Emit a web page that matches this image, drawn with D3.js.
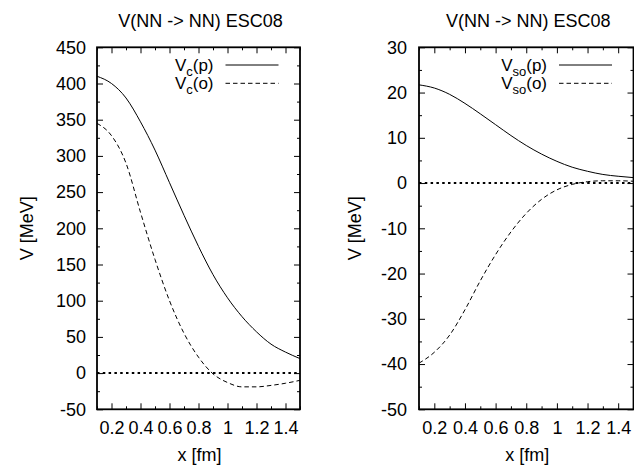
<!DOCTYPE html>
<html>
<head>
<meta charset="utf-8">
<script src="https://cdn.jsdelivr.net/npm/d3@7"></script>
<style>
  body { margin: 0; background: #fff; }
  svg { display: block; }
  text { font-family: "Liberation Sans", Arial, sans-serif; fill: #000; }
</style>
</head>
<body>
<svg width="634" height="466"></svg>
<script>
// values
var xs    = [0.1, 0.2, 0.3, 0.4, 0.5, 0.6, 0.7, 0.8, 0.9, 1.0, 1.1, 1.2, 1.3, 1.4, 1.5];
var vcP   = [410, 400, 380, 347, 308, 263, 218, 175, 136, 104, 78, 57, 40, 29, 20];
var vcO   = [345, 328, 290, 222, 157, 100, 55, 22, -1, -13, -19, -19, -17, -14, -10];
var vsoP  = [21.7, 21.0, 19.6, 17.6, 15.3, 12.9, 10.5, 8.3, 6.4, 4.8, 3.5, 2.6, 1.9, 1.5, 1.2];
var vsoO  = [-39.8, -37.4, -33.6, -28.0, -21.6, -15.8, -10.8, -6.7, -3.6, -1.5, -0.3, 0.3, 0.5, 0.5, 0.4];

var xTicks      = [0.2, 0.4, 0.6, 0.8, 1, 1.2, 1.4];
var xMinor      = [0.1, 0.3, 0.5, 0.7, 0.9, 1.1, 1.3, 1.5];
var leftTicks   = [-50, 0, 50, 100, 150, 200, 250, 300, 350, 400, 450];
var leftMinor   = [-25, 25, 75, 125, 175, 225, 275, 325, 375, 425];
var rightTicks  = [-50, -40, -30, -20, -10, 0, 10, 20, 30];
var rightMinor  = [-45, -35, -25, -15, -5, 5, 15, 25];

var title = "V(NN -> NN) ESC08";
var fs = "18px";

var svg = d3.select("svg");

function panel(opt) {
    var g = svg.append("g");

    var x = d3.scaleLinear().domain([0.1, 1.5]).range([opt.left, opt.right]);
    var y = d3.scaleLinear().domain(opt.yDomain).range([opt.bottom, opt.top]);

    // ticks, all pointing inward, mirrored on all sides
    function axisGroup(axis, tx, ty) {
        var a = g.append("g")
            .attr("transform", "translate(" + tx + "," + ty + ")")
            .call(axis);
        a.select(".domain").remove();
        a.selectAll("line").attr("stroke", "#000").attr("stroke-width", 1);
        a.selectAll("text").style("font-size", fs).attr("fill", "#000");
        return a;
    }

    axisGroup(d3.axisLeft(y).tickValues(opt.yTicks).tickSize(-6).tickPadding(opt.yPad)
        .tickFormat(function(d) { return String(d); }), opt.left, 0);
    axisGroup(d3.axisLeft(y).tickValues(opt.yMinor).tickSize(-3).tickFormat(""), opt.left, 0);
    axisGroup(d3.axisRight(y).tickValues(opt.yTicks).tickSize(-6).tickFormat(""), opt.right, 0);
    axisGroup(d3.axisRight(y).tickValues(opt.yMinor).tickSize(-3).tickFormat(""), opt.right, 0);

    axisGroup(d3.axisBottom(x).tickValues(xTicks).tickSize(-6).tickPadding(11.9)
        .tickFormat(function(d) { return String(d); }), 0, opt.bottom);
    axisGroup(d3.axisBottom(x).tickValues(xMinor).tickSize(-3).tickFormat(""), 0, opt.bottom);
    axisGroup(d3.axisTop(x).tickValues(xTicks).tickSize(-6).tickFormat(""), 0, opt.top);
    axisGroup(d3.axisTop(x).tickValues(xMinor).tickSize(-3).tickFormat(""), 0, opt.top);

    // zero axis, dotted
    g.append("line")
        .attr("x1", opt.left).attr("x2", opt.right)
        .attr("y1", y(0)).attr("y2", y(0))
        .attr("stroke", "#000")
        .attr("stroke-width", 2)
        .attr("stroke-dasharray", "2.5,3.3");

    var line = d3.line()
        .x(function(d, i) { return x(xs[i]); })
        .y(function(d) { return y(d); })
        .curve(d3.curveMonotoneX);

    g.append("path")
        .attr("d", line(opt.solid))
        .attr("fill", "none")
        .attr("stroke", "#000")
        .attr("stroke-width", 1);

    g.append("path")
        .attr("d", line(opt.dashed))
        .attr("fill", "none")
        .attr("stroke", "#000")
        .attr("stroke-width", 1)
        .attr("stroke-dasharray", "4.5,3");

    // border
    g.append("rect")
        .attr("x", opt.left).attr("y", opt.top)
        .attr("width", opt.right - opt.left)
        .attr("height", opt.bottom - opt.top)
        .attr("fill", "none")
        .attr("stroke", "#000")
        .attr("stroke-width", 1.8);

    // title
    g.append("text")
        .attr("x", (opt.left + opt.right) / 2 + 2)
        .attr("y", 26.5)
        .attr("text-anchor", "middle")
        .style("font-size", fs)
        .text(title);

    // axis labels
    g.append("text")
        .attr("x", (opt.left + opt.right) / 2 + 1)
        .attr("y", 461)
        .attr("text-anchor", "middle")
        .style("font-size", fs)
        .text("x [fm]");

    g.append("text")
        .attr("transform", "translate(" + opt.yLabelX + "," + ((opt.top + opt.bottom) / 2) + ") rotate(-90)")
        .attr("text-anchor", "middle")
        .style("font-size", fs)
        .text("V [MeV]");

    // legend
    var legendData = [
        { sub: opt.sub, tag: "(p)", dash: null, row: 65 },
        { sub: opt.sub, tag: "(o)", dash: "4.5,3", row: 83.3 }
    ];
    var legend = g.selectAll(".legend")
        .data(legendData)
        .enter().append("g")
        .attr("class", "legend");

    var t = legend.append("text")
        .attr("x", opt.legendTextX)
        .attr("y", function(d) { return d.row + 5.5; })
        .attr("text-anchor", "end")
        .style("font-size", "17px");
    t.append("tspan").text("V");
    t.append("tspan").attr("dy", 5.5).style("font-size", "13px").text(function(d) { return d.sub; });
    t.append("tspan").attr("dy", -5.5).text(function(d) { return d.tag; });

    legend.append("line")
        .attr("x1", opt.legendTextX + 12)
        .attr("x2", opt.legendTextX + 65)
        .attr("y1", function(d) { return d.row; })
        .attr("y2", function(d) { return d.row; })
        .attr("stroke", "#000")
        .attr("stroke-width", 1)
        .attr("stroke-dasharray", function(d) { return d.dash; });
}

panel({
    left: 97, right: 300, top: 47.3, bottom: 409.3,
    yDomain: [-50, 450], yTicks: leftTicks, yMinor: leftMinor, yPad: 11,
    yLabelX: 32.5, solid: vcP, dashed: vcO, sub: "c", legendTextX: 213.5
});

panel({
    left: 419, right: 633.5, top: 47.3, bottom: 409.3,
    yDomain: [-50, 30], yTicks: rightTicks, yMinor: rightMinor, yPad: 12,
    yLabelX: 360.5, solid: vsoP, dashed: vsoO, sub: "so", legendTextX: 547
});
</script>
</body>
</html>
